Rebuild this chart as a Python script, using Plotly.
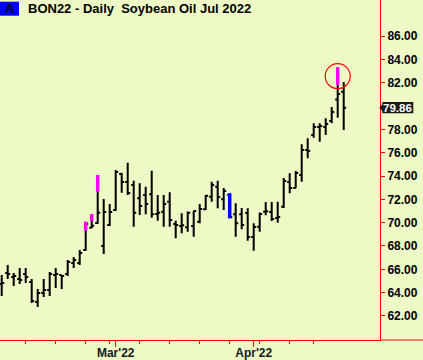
import plotly.graph_objects as go

# ---------------- data ----------------
dates = [
    "2022-02-01", "2022-02-02", "2022-02-03", "2022-02-04", "2022-02-07", "2022-02-08",
    "2022-02-09", "2022-02-10", "2022-02-11", "2022-02-14", "2022-02-15", "2022-02-16",
    "2022-02-17", "2022-02-18", "2022-02-22", "2022-02-23", "2022-02-24", "2022-02-25",
    "2022-02-28", "2022-03-01", "2022-03-02", "2022-03-03", "2022-03-04", "2022-03-07",
    "2022-03-08", "2022-03-09", "2022-03-10", "2022-03-11", "2022-03-14", "2022-03-15",
    "2022-03-16", "2022-03-17", "2022-03-18", "2022-03-21", "2022-03-22", "2022-03-23",
    "2022-03-24", "2022-03-25", "2022-03-28", "2022-03-29", "2022-03-30", "2022-03-31",
    "2022-04-01", "2022-04-04", "2022-04-05", "2022-04-06", "2022-04-07", "2022-04-08",
    "2022-04-11", "2022-04-12", "2022-04-13", "2022-04-14", "2022-04-18", "2022-04-19",
    "2022-04-20", "2022-04-21", "2022-04-22", "2022-04-25",
]
opens = [64.74, 65.69, 65.34, 65.17, 65.60, 64.91, 63.20, 63.97, 64.23, 65.51,
         65.51, 65.60, 66.54, 66.54, 67.66, 69.57, 69.97, 68.00, 69.80, 71.09,
         74.17, 73.49, 73.23, 72.09, 72.37, 72.43, 70.74, 70.94, 71.80, 69.89,
         69.71, 69.60, 69.71, 70.08, 71.15, 72.23, 73.08, 72.00, 72.37, 70.72,
         70.72, 70.83, 68.77, 69.65, 70.94, 70.91, 70.40, 71.37, 73.49, 72.97,
         74.09, 76.23, 77.51, 78.20, 78.20, 78.71, 80.57, 81.23]
highs = [65.51, 66.37, 65.69, 66.11, 66.11, 65.17, 64.31, 65.17, 65.77, 66.11,
         65.51, 66.80, 67.06, 67.66, 70.08, 70.74, 74.09, 72.03, 71.60, 74.51,
         74.28, 75.14, 73.60, 73.37, 73.08, 74.45, 72.37, 72.37, 72.60, 70.17,
         70.80, 70.95, 71.03, 71.60, 72.37, 73.51, 73.60, 72.97, 72.52, 71.66,
         71.26, 71.23, 69.95, 70.87, 71.77, 71.77, 71.80, 73.83, 74.23, 74.43,
         76.72, 77.23, 78.52, 78.52, 78.95, 79.91, 83.32, 82.06]
lows = [63.71, 65.17, 64.57, 64.74, 64.83, 63.11, 62.77, 63.63, 63.71, 64.40,
        64.31, 65.43, 66.11, 66.37, 67.60, 69.52, 69.89, 67.31, 69.71, 71.00,
        72.57, 72.37, 69.65, 70.66, 70.72, 70.43, 70.17, 69.65, 69.65, 68.66,
        69.09, 69.23, 68.80, 69.95, 71.09, 71.80, 71.23, 71.09, 70.37, 68.80,
        69.43, 68.45, 67.60, 69.23, 70.63, 70.14, 70.00, 71.26, 72.52, 72.95,
        73.51, 75.52, 77.28, 76.94, 77.51, 78.52, 79.00, 77.94]
closes = [64.83, 65.60, 65.43, 65.09, 65.34, 63.29, 63.97, 64.23, 65.60, 65.60,
          65.43, 66.63, 66.80, 67.40, 69.90, 69.74, 70.85, 70.91, 70.91, 74.34,
          73.49, 72.54, 70.85, 71.43, 71.60, 70.72, 70.85, 71.60, 70.23, 69.80,
          69.77, 70.85, 71.00, 71.17, 72.31, 73.23, 72.20, 72.71, 70.49, 69.95,
          69.80, 68.77, 69.63, 70.74, 70.97, 70.31, 70.49, 73.57, 72.97, 74.26,
          76.23, 76.14, 78.20, 78.29, 78.46, 79.49, 81.03, 79.86]

# highlighted signal segments
hl_dates = ["2022-02-22", "2022-02-23", "2022-02-24", "2022-03-28", "2022-04-22"]
hl_low = [69.31, 70.14, 72.65, 70.37, 81.80]
hl_high = [70.08, 70.74, 74.09, 72.52, 83.32]
hl_colors = ["#FF00FF", "#FF00FF", "#FF00FF", "#0000FF", "#FF00FF"]
circled_date = "2022-04-22"

y_ticks = [62, 64, 66, 68, 70, 72, 74, 76, 78, 82, 84, 86]
month_dates = ["2022-03-01", "2022-04-01"]
month_labels = ["Mar'22", "Apr'22"]
week_dates = ["2022-02-07", "2022-02-14", "2022-02-22", "2022-02-28", "2022-03-07",
              "2022-03-14", "2022-03-21", "2022-03-28", "2022-04-04", "2022-04-11",
              "2022-04-18"]

symbol_tag = "A"
title_text = "BON22 - Daily\u00a0 Soybean Oil Jul 2022"

# ---------------- figure ----------------
BG = "#EEFAC6"
RED = "#FF0000"
FONT = "Liberation Sans"

idx = list(range(len(dates)))
pos = {d: i for i, d in enumerate(dates)}

fig = go.Figure()
fig.add_trace(go.Ohlc(
    x=idx, open=opens, high=highs, low=lows, close=closes,
    increasing=dict(line=dict(color="black", width=2)),
    decreasing=dict(line=dict(color="black", width=2)),
    tickwidth=0.42, hoverinfo="skip", showlegend=False,
))

for col in sorted(set(hl_colors)):
    xs, ys = [], []
    for d, lo, hi, c in zip(hl_dates, hl_low, hl_high, hl_colors):
        if c == col:
            xs += [pos[d], pos[d], None]
            ys += [lo, hi, None]
    fig.add_trace(go.Scatter(x=xs, y=ys, mode="lines",
                             line=dict(color=col, width=3.5),
                             hoverinfo="skip", showlegend=False))

ci = hl_dates.index(circled_date)
fig.add_trace(go.Scatter(
    x=[pos[circled_date]], y=[(hl_low[ci] + hl_high[ci]) / 2], mode="markers",
    marker=dict(symbol="circle-open", size=25, color=RED, line=dict(width=1.2, color=RED)),
    hoverinfo="skip", showlegend=False))

YR = [59.94, 89.09]
PLOT_W, PLOT_H = 380, 340
upp = (YR[1] - YR[0]) / PLOT_H  # value units per pixel

last = closes[-1]
bx0, bx1, tip = 382.3 / PLOT_W, 413.3 / PLOT_W, 379.3 / PLOT_W
hh = 5.7 * upp
th = 3.5 * upp
path = (f"M {bx0},{last + hh} L {bx1},{last + hh} L {bx1},{last - hh} L {bx0},{last - hh} "
        f"L {bx0},{last - th} L {tip},{last} L {bx0},{last + th} Z")

fig.update_layout(
    width=423, height=360,
    margin=dict(l=0, r=43, t=0, b=20, autoexpand=False),
    paper_bgcolor=BG, plot_bgcolor=BG,
    hovermode=False,
    showlegend=False,
    xaxis=dict(
        type="linear", range=[-0.283, 63.05], automargin=False,
        rangeslider=dict(visible=False),
        showgrid=False, zeroline=False,
        showline=True, linecolor=RED, linewidth=1,
        ticks="outside", ticklen=6, tickcolor=RED, tickwidth=1,
        ticklabelstandoff=-4,
        tickvals=[pos[d] for d in month_dates], ticktext=month_labels,
        tickfont=dict(family=FONT, size=12, color="#141a24", weight="bold"),
        minor=dict(tickvals=[pos[d] for d in week_dates], ticks="outside",
                   ticklen=3, tickcolor=RED, tickwidth=1, showgrid=False),
    ),
    yaxis=dict(
        side="right", range=YR, automargin=False,
        showgrid=False, zeroline=False,
        showline=True, linecolor=RED, linewidth=1,
        ticks="outside", ticklen=4, tickcolor=RED, tickwidth=1,
        tickvals=y_ticks, tickformat=".2f",
        tickfont=dict(family=FONT, size=12, color="black", weight="bold"),
    ),
    shapes=[
        dict(type="line", xref="paper", yref="paper", x0=1, x1=423 / PLOT_W, y0=0, y1=0,
             line=dict(color=RED, width=1)),
        dict(type="rect", xref="paper", yref="paper", x0=0, x1=19 / PLOT_W,
             y0=1 - 15.7 / PLOT_H, y1=1 - 1.7 / PLOT_H, fillcolor="#0000FF",
             line=dict(width=0)),
        dict(type="path", xref="paper", yref="y", path=path, fillcolor="#1b1b1b",
             line=dict(width=0)),
    ],
    annotations=[
        dict(xref="paper", yref="paper", x=9.5 / PLOT_W, y=1 - 8.7 / PLOT_H,
             xanchor="center", yanchor="middle", text=symbol_tag, showarrow=False,
             font=dict(family=FONT, size=13, color="black", weight="bold")),
        dict(xref="paper", yref="paper", x=26 / PLOT_W, y=1 - 8.7 / PLOT_H,
             xanchor="left", yanchor="middle", text=title_text, showarrow=False,
             font=dict(family=FONT, size=13, color="black", weight="bold")),
        dict(xref="paper", yref="y", x=(382.3 + 413.3) / 2 / PLOT_W, y=last,
             xanchor="center", yanchor="middle", text=f"{last:.2f}", showarrow=False,
             font=dict(family=FONT, size=11.5, color="white", weight="bold")),
    ],
)

fig.write_html(
    "out.html",
    config={"displayModeBar": False, "staticPlot": True},
    post_script="document.body.style.margin='0px';document.body.style.background='" + BG + "';",
)
